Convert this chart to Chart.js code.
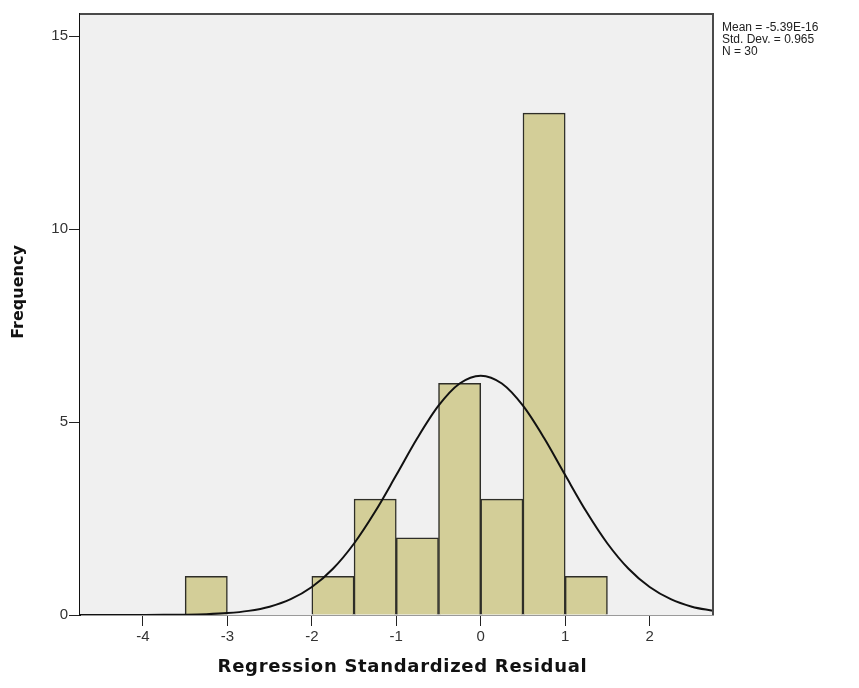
<!DOCTYPE html>
<html>
<head>
<meta charset="utf-8">
<style>
  html, body { margin: 0; padding: 0; background: #ffffff; }
  #wrap { position: relative; width: 859px; height: 688px; }
</style>
<script src="https://cdn.jsdelivr.net/npm/chart.js@4.4.1/dist/chart.umd.min.js"></script>
</head>
<body>
<div id="wrap"><canvas id="c" width="859" height="688"></canvas></div>
<script>
// ---- data ----
const binCenters = [-3.25, -1.75, -1.25, -0.75, -0.25, 0.25, 0.75, 1.25];
const binCounts  = [1, 1, 3, 2, 6, 3, 13, 1];
const curveX = [-4.75, -4.5, -4.25, -4.0, -3.75, -3.5, -3.25, -3.0, -2.75, -2.5, -2.25, -2.0, -1.75, -1.5, -1.25, -1.0, -0.75, -0.5, -0.25, 0,
                0.25, 0.5, 0.75, 1.0, 1.25, 1.5, 1.75, 2.0, 2.25, 2.5, 2.75];
const curveY = [0.00003, 0.0001, 0.0004, 0.0012, 0.0033, 0.0086, 0.021, 0.049, 0.107, 0.216, 0.409, 0.724, 1.198, 1.853, 2.680, 3.625, 4.585, 5.422, 5.997, 6.201,
                5.997, 5.422, 4.585, 3.625, 2.680, 1.853, 1.198, 0.724, 0.409, 0.216, 0.107];
const xTicks = [-4, -3, -2, -1, 0, 1, 2];
const yTicks = [0, 5, 10, 15];
const statsLines = ["Mean = -5.39E-16", "Std. Dev. = 0.965", "N = 30"];
const xTitle = "Regression Standardized Residual";
const yTitle = "Frequency";

const barData = binCenters.map((x, i) => ({ x: x, y: binCounts[i] }));
const lineData = curveX.map((x, i) => ({ x: x, y: curveY[i] }));

const tickFont = { family: '"Liberation Sans Narrow", "Liberation Sans", sans-serif', size: 15 };

const decor = {
  id: 'decor',
  beforeDatasetsDraw(chart) {
    const { ctx, chartArea: a } = chart;
    ctx.save();
    ctx.fillStyle = '#f0f0f0';
    ctx.fillRect(a.left, a.top, a.right - a.left, a.bottom - a.top);
    ctx.restore();
  },
  afterDraw(chart) {
    const { ctx, chartArea: a } = chart;
    ctx.save();
    ctx.strokeStyle = '#4a4a4a';
    ctx.lineWidth = 2;
    ctx.beginPath();
    ctx.moveTo(a.left, a.top);
    ctx.lineTo(a.right, a.top);
    ctx.lineTo(a.right, a.bottom);
    ctx.stroke();
    ctx.fillStyle = '#111';
    ctx.font = 'bold 18px "DejaVu Sans"';
    if ('letterSpacing' in ctx) ctx.letterSpacing = '0.7px';
    ctx.textAlign = 'center';
    ctx.textBaseline = 'middle';
    ctx.fillText(xTitle, (a.left + a.right) / 2 + 6, 667);
    if ('letterSpacing' in ctx) ctx.letterSpacing = '0px';
    ctx.font = 'bold 16px "DejaVu Sans"';
    ctx.translate(19, 292);
    ctx.rotate(-Math.PI / 2);
    ctx.fillText(yTitle, 0, 0);
    ctx.restore();
    ctx.save();
    ctx.fillStyle = '#222';
    ctx.font = '12px "Liberation Sans Narrow", "Liberation Sans"';
    ctx.textAlign = 'left';
    ctx.textBaseline = 'middle';
    statsLines.forEach((t, i) => ctx.fillText(t, a.right + 9, 28 + i * 12));
    ctx.restore();
  }
};

new Chart(document.getElementById('c'), {
  data: {
    datasets: [
      {
        type: 'line',
        data: lineData,
        borderColor: '#111111',
        borderWidth: 2,
        pointRadius: 0,
        cubicInterpolationMode: 'monotone',
        order: 0
      },
      {
        type: 'bar',
        data: barData,
        backgroundColor: '#d3ce98',
        borderColor: '#2e2e28',
        borderWidth: 1.5,
        barPercentage: 1,
        categoryPercentage: 1,
        order: 1
      }
    ]
  },
  options: {
    responsive: false,
    animation: false,
    layout: { padding: { left: 0, top: 14, right: 146, bottom: 0 } },
    plugins: { legend: { display: false }, tooltip: { enabled: false } },
    scales: {
      x: {
        type: 'linear',
        offset: false,
        min: -4.745,
        max: 2.75,
        afterBuildTicks(s) { s.ticks = xTicks.map(v => ({ value: v })); },
        afterFit(s) { s.height = 73; },
        grid: { offset: false, drawOnChartArea: false, drawTicks: true, tickLength: 11, color: '#222' },
        border: { color: '#9a9a9a', width: 1 },
        ticks: { color: '#333', font: tickFont, padding: 2, maxRotation: 0, autoSkip: false,
                 callback: v => String(v) }
      },
      y: {
        type: 'linear',
        min: 0,
        max: 15.57,
        afterBuildTicks(s) { s.ticks = yTicks.map(v => ({ value: v })); },
        afterFit(s) { s.width = 80; },
        grid: { drawOnChartArea: false, drawTicks: true, tickLength: 11, color: '#222' },
        border: { color: '#111', width: 2 },
        ticks: { color: '#333', font: tickFont, padding: 1,
                 callback: v => String(v) }
      }
    }
  },
  plugins: [decor]
});
</script>
</body>
</html>
